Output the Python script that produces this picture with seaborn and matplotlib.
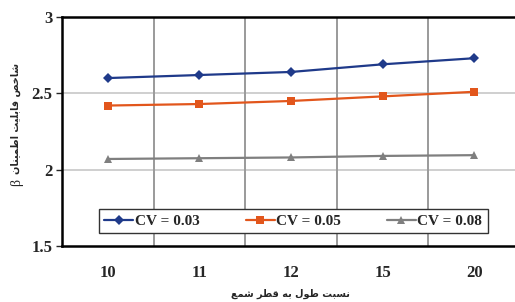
import matplotlib
matplotlib.use('Agg')
import matplotlib.pyplot as plt
import seaborn as sns
import pandas as pd

# data
ratios = ['10', '11', '12', '15', '20']
beta_cv003 = [2.60, 2.62, 2.64, 2.69, 2.73]
beta_cv005 = [2.42, 2.43, 2.45, 2.48, 2.51]
beta_cv008 = [2.07, 2.075, 2.08, 2.09, 2.095]
series_names = ['CV = 0.03', 'CV = 0.05', 'CV = 0.08']
y_ticks = [1.5, 2, 2.5, 3]
y_tick_labels = ['1.5', '2', '2.5', '3']

x_title = 'نسبت طول به قطر شمع'
y_title = 'شاخص قابلیت اطمینان'

# persian letters -> (isolated, final, initial, medial)
FORMS = {
    'ا': ('\uFE8D', '\uFE8E', None, None),
    'ب': ('\uFE8F', '\uFE90', '\uFE91', '\uFE92'),
    'ت': ('\uFE95', '\uFE96', '\uFE97', '\uFE98'),
    'خ': ('\uFEA5', '\uFEA6', '\uFEA7', '\uFEA8'),
    'ر': ('\uFEAD', '\uFEAE', None, None),
    'س': ('\uFEB1', '\uFEB2', '\uFEB3', '\uFEB4'),
    'ش': ('\uFEB5', '\uFEB6', '\uFEB7', '\uFEB8'),
    'ص': ('\uFEB9', '\uFEBA', '\uFEBB', '\uFEBC'),
    'ط': ('\uFEC1', '\uFEC2', '\uFEC3', '\uFEC4'),
    'ع': ('\uFEC9', '\uFECA', '\uFECB', '\uFECC'),
    'ق': ('\uFED5', '\uFED6', '\uFED7', '\uFED8'),
    'ل': ('\uFEDD', '\uFEDE', '\uFEDF', '\uFEE0'),
    'م': ('\uFEE1', '\uFEE2', '\uFEE3', '\uFEE4'),
    'ن': ('\uFEE5', '\uFEE6', '\uFEE7', '\uFEE8'),
    'ه': ('\uFEE9', '\uFEEA', '\uFEEB', '\uFEEC'),
    'و': ('\uFEED', '\uFEEE', None, None),
    'ی': ('\uFBFC', '\uFBFD', '\uFEF3', '\uFEF4'),
}


def shape(text):
    out = []
    for i, ch in enumerate(text):
        if ch not in FORMS:
            out.append(ch)
            continue
        prev = text[i - 1] if i > 0 else ''
        nxt = text[i + 1] if i + 1 < len(text) else ''
        join_prev = prev in FORMS and FORMS[prev][2] is not None
        join_next = FORMS[ch][2] is not None and nxt in FORMS
        iso, fin, ini, med = FORMS[ch]
        if join_prev and join_next:
            out.append(med)
        elif join_prev:
            out.append(fin)
        elif join_next:
            out.append(ini)
        else:
            out.append(iso)
    return ''.join(reversed(out))


df = pd.DataFrame({
    'ratio': ratios * 3,
    'beta': beta_cv003 + beta_cv005 + beta_cv008,
    'cv': [s for s in series_names for _ in ratios],
})

sns.set_style('white')
plt.rcParams['font.family'] = ['Liberation Serif', 'DejaVu Sans']

fig = plt.figure(figsize=(5.15, 3.02), dpi=100)
ax = fig.add_axes([62 / 515, 1 - 246 / 302, 458 / 515, 229 / 302])

palette = {'CV = 0.03': '#1f3a8a', 'CV = 0.05': '#e2561c', 'CV = 0.08': '#7f7f7f'}
markers = {'CV = 0.03': 'D', 'CV = 0.05': 's', 'CV = 0.08': '^'}
sns.lineplot(data=df, x='ratio', y='beta', hue='cv', style='cv', palette=palette,
             markers=markers, dashes=False, markersize=5.5, linewidth=1.6,
             markeredgewidth=0, ax=ax, zorder=3)

ax.set_xlim(-0.5, 4.5)
ax.set_ylim(1.5, 3)
ax.set_yticks(y_ticks)
ax.set_yticklabels(y_tick_labels)
ax.set_xticks(range(len(ratios)))
ax.set_xticklabels(ratios)
ax.set_xticks([0.5, 1.5, 2.5, 3.5], minor=True)

for y in [2, 2.5]:
    ax.axhline(y, color='#cfcfcf', linewidth=1.4, zorder=1)
for x in [0.5, 1.5, 2.5, 3.5]:
    ax.axvline(x, color='#9a9a9a', linewidth=1.4, zorder=1)

for side in ['left', 'top', 'bottom']:
    ax.spines[side].set_color('black')
    ax.spines[side].set_linewidth(1.8)
ax.spines['right'].set_visible(False)

ax.tick_params(axis='x', which='major', length=0, pad=14, labelsize=12)
ax.tick_params(axis='x', which='minor', length=4, width=1, color='#555555', direction='inout')
ax.tick_params(axis='y', which='major', length=4, width=1, direction='out', left=True,
               labelsize=12, pad=3)
for lab in ax.get_xticklabels() + ax.get_yticklabels():
    lab.set_fontweight('bold')

ax.set_xlabel('')
ax.set_ylabel('')
fig.text(290 / 515, 1 - 294 / 302, shape(x_title), ha='center', va='center',
         fontsize=7, fontweight='bold', family=['DejaVu Sans'])
fig.text(16 / 515, 1 - 119 / 302, shape(y_title), ha='center', va='center',
         rotation=90, fontsize=7, fontweight='bold', family=['DejaVu Sans'])
fig.text(17 / 515, 1 - 183 / 302, 'β', ha='center', va='center',
         rotation=90, fontsize=10, family=['Liberation Serif'])

handles, labels = ax.get_legend_handles_labels()
leg = ax.legend(handles, labels, ncol=3, loc='center', bbox_to_anchor=(0.505, 0.109),
                frameon=True, fancybox=False, edgecolor='#333333', framealpha=1,
                handlelength=1.9, handletextpad=0.1, columnspacing=3.0,
                borderpad=0.35, prop={'weight': 'bold', 'size': 11})
leg.get_frame().set_linewidth(1.0)

fig.savefig('out.png', dpi=100)
